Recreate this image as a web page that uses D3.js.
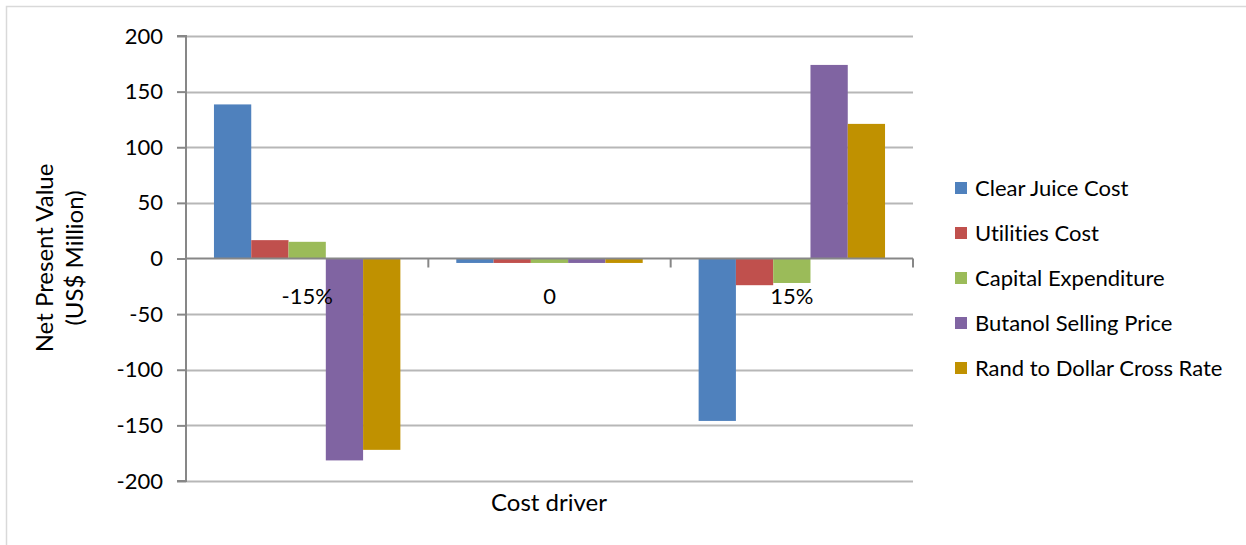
<!DOCTYPE html>
<html>
<head>
<meta charset="utf-8">
<script src="https://cdn.jsdelivr.net/npm/d3@7"></script>
<style>
  html, body { margin: 0; padding: 0; background: #fff; }
  svg { display: block; }
  text { font-family: Lato, "Open Sans", "Liberation Sans", sans-serif; fill: #000; font-variant-ligatures: none; }
</style>
</head>
<body>
<svg id="chart" width="1246" height="545"></svg>
<script>
// Sensitivity of NPV to each cost driver
const categories = ["-15%", "0", "15%"];
const seriesNames = [
  "Clear Juice Cost",
  "Utilities Cost",
  "Capital Expenditure",
  "Butanol Selling Price",
  "Rand to Dollar Cross Rate"
];
const clearJuiceCost = [138.5, -4, -146];
const utilitiesCost = [16.5, -4, -24];
const capitalExpenditure = [15, -4, -22];
const butanolSellingPrice = [-181.5, -4, 174];
const randToDollarRate = [-172, -4, 121];
const yTicks = [-200, -150, -100, -50, 0, 50, 100, 150, 200];
const colors = ["#4F81BD", "#C0504D", "#9BBB59", "#8064A2", "#C09100"];

const seriesValues = [clearJuiceCost, utilitiesCost, capitalExpenditure, butanolSellingPrice, randToDollarRate];

const FONT = "Lato, 'Open Sans', sans-serif";
const svg = d3.select("#chart");

// outer chart frame
svg.append("rect")
  .attr("x", 6.5).attr("y", 6.5)
  .attr("width", 1260).attr("height", 560)
  .attr("fill", "#fff").attr("stroke", "#d9d9d9").attr("stroke-width", 1.5);

const plot = { left: 186, right: 913, top: 36, bottom: 481 };

const y = d3.scaleLinear().domain([-200, 200]).range([plot.bottom, plot.top]);
const x0 = d3.scaleBand().domain(categories).range([plot.left, plot.right]).paddingInner(0).paddingOuter(0);
const x1 = d3.scaleBand().domain(seriesNames).range([0, x0.bandwidth()])
  .paddingInner(0).paddingOuter(0.75);

// horizontal gridlines
svg.append("g")
  .selectAll("line")
  .data(yTicks.filter(d => d !== 0))
  .join("line")
  .attr("x1", plot.left).attr("x2", plot.right)
  .attr("y1", d => Math.round(y(d)) + 0.5).attr("y2", d => Math.round(y(d)) + 0.5)
  .attr("stroke", "#b7b7b7").attr("stroke-width", 2);

// bars
const groups = svg.append("g")
  .selectAll("g")
  .data(categories.map((c, i) => ({ cat: c, vals: seriesValues.map((s, j) => ({ name: seriesNames[j], v: s[i], color: colors[j] })) })))
  .join("g")
  .attr("transform", d => `translate(${x0(d.cat)},0)`);

groups.selectAll("rect")
  .data(d => d.vals)
  .join("rect")
  .attr("x", d => x1(d.name))
  .attr("width", x1.bandwidth())
  .attr("y", d => y(Math.max(0, d.v)))
  .attr("height", d => Math.abs(y(d.v) - y(0)))
  .attr("fill", d => d.color);

// y axis (plain hyphen for negatives)
const yAxis = d3.axisLeft(y).tickValues(yTicks).tickSize(9).tickPadding(14)
  .tickFormat(d => String(d));
const gy = svg.append("g").attr("transform", `translate(${plot.left},0)`).call(yAxis);
gy.select(".domain").attr("stroke", "#878787").attr("stroke-width", 2).attr("d", `M-9,${y(200)}H0V${y(-200)}H-9`);
gy.selectAll(".tick line").attr("stroke", "#878787").attr("stroke-width", 2);
gy.selectAll(".tick text").attr("font-size", 22).attr("fill", "#000")
  .attr("font-family", FONT);

// x axis along zero
const xAxis = d3.axisBottom(x0).tickSize(0).tickPadding(0);
const gx = svg.append("g").attr("transform", `translate(0,${y(0)})`).call(xAxis);
gx.select(".domain").attr("stroke", "#878787").attr("stroke-width", 2)
  .attr("d", `M${plot.left},0H${plot.right}`);
gx.selectAll(".tick text").attr("font-size", 22).attr("fill", "#000")
  .attr("font-family", FONT)
  .attr("y", 45).attr("dy", 0);
// category separator ticks below the axis
svg.append("g")
  .selectAll("line")
  .data(d3.range(categories.length + 1))
  .join("line")
  .attr("x1", i => plot.left + i * x0.bandwidth())
  .attr("x2", i => plot.left + i * x0.bandwidth())
  .attr("y1", y(0)).attr("y2", y(0) + 9)
  .attr("stroke", "#878787").attr("stroke-width", 2);

// axis titles
svg.append("text")
  .attr("transform", "translate(45,258) rotate(-90)")
  .attr("text-anchor", "middle").attr("dy", "0.35em")
  .attr("font-size", 24).text("Net Present Value");
svg.append("text")
  .attr("transform", "translate(75,258) rotate(-90)")
  .attr("text-anchor", "middle").attr("dy", "0.35em")
  .attr("font-size", 24).text("(US$ Million)");
svg.append("text")
  .attr("x", 549).attr("y", 503)
  .attr("text-anchor", "middle").attr("dy", "0.35em")
  .attr("font-size", 24).text("Cost driver");

// legend
const legend = svg.append("g")
  .selectAll("g")
  .data(seriesNames)
  .join("g")
  .attr("transform", (d, i) => `translate(955,${188 + i * 45})`);
legend.append("rect")
  .attr("x", 0).attr("y", -6).attr("width", 12).attr("height", 12)
  .attr("fill", (d, i) => colors[i]);
legend.append("text")
  .attr("x", 20).attr("dy", "0.35em")
  .attr("font-size", 22).text(d => d);
</script>
</body>
</html>
